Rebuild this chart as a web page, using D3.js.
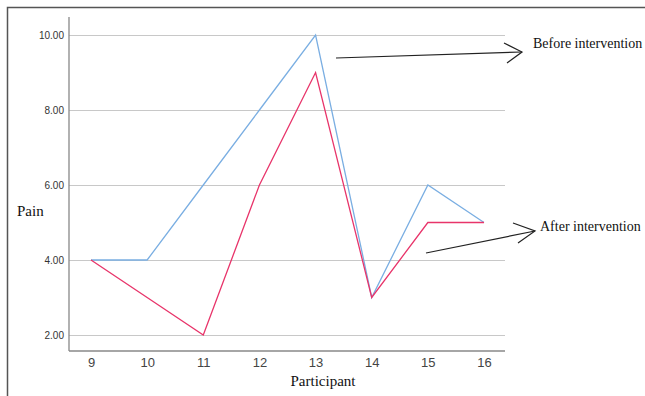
<!DOCTYPE html>
<html><head><meta charset="utf-8">
<script src="https://cdn.jsdelivr.net/npm/d3@7"></script>
<style>body{margin:0;background:#fff}svg{display:block}</style>
</head><body>
<svg id="c" width="645" height="396"></svg>
<script>
const participants = ["9","10","11","12","13","14","15","16"];
const before = [4, 4, 6, 8, 10, 3, 6, 5];
const after  = [4, 3, 2, 6, 9, 3, 5, 5];
const yTicks = [2, 4, 6, 8, 10];

(function(){
const svg = d3.select("#c");
// outer frame
svg.append("path").attr("d","M7.5,396V7.5H645").attr("fill","none").attr("stroke","#555").attr("stroke-width",1.5);

const x = d3.scalePoint().domain(participants).range([91, 484]);
const y = d3.scaleLinear().domain([2, 10]).range([335, 35]);
const pl = 69, pr = 505, pt = 17, pb = 351;

// gridlines
svg.append("g").selectAll("line").data(yTicks).join("line")
  .attr("x1", pl).attr("x2", pr)
  .attr("y1", d => y(d) + 0.5).attr("y2", d => y(d) + 0.5)
  .attr("stroke", "#c8c8c8").attr("stroke-width", 1);

// y axis
const ya = svg.append("g").attr("transform", `translate(${pl},0)`)
  .call(d3.axisLeft(y).tickValues(yTicks).tickFormat(d3.format(".2f")).tickSize(0).tickPadding(5));
ya.select(".domain").remove();
ya.selectAll("text").attr("font-family","Liberation Sans, Arial, sans-serif").attr("font-size",10).attr("fill","#333");
svg.append("line").attr("x1",pl).attr("x2",pl).attr("y1",pt).attr("y2",pb).attr("stroke","#888").attr("stroke-width",1.3);

// x axis
const xa = svg.append("g").attr("transform", `translate(0,${pb})`)
  .call(d3.axisBottom(x).tickSize(0).tickPadding(7));
xa.select(".domain").remove();
xa.selectAll("text").attr("font-family","Liberation Sans, Arial, sans-serif").attr("font-size",13).attr("fill","#444");
svg.append("line").attr("x1",pl).attr("x2",pr).attr("y1",pb).attr("y2",pb).attr("stroke","#888").attr("stroke-width",1.3);

// lines
const line = d3.line().x((d,i) => x(participants[i])).y(d => y(d));
svg.append("path").datum(before).attr("d", line).attr("fill","none").attr("stroke","#7aaee2").attr("stroke-width",1.3);
svg.append("path").datum(after).attr("d", line).attr("fill","none").attr("stroke","#e8346a").attr("stroke-width",1.3);

// axis titles
svg.append("text").attr("x",323).attr("y",386).attr("text-anchor","middle")
  .attr("font-family","Liberation Serif, Times New Roman, serif").attr("font-size",15).attr("fill","#111").text("Participant");
svg.append("text").attr("x",17).attr("y",216)
  .attr("font-family","Liberation Serif, Times New Roman, serif").attr("font-size",15).attr("fill","#111").text("Pain");

// annotations
function arrow(x1,y1,x2,y2,a1,a2){
  const g = svg.append("g").attr("stroke","#222").attr("stroke-width",1.2).attr("fill","none");
  g.append("line").attr("x1",x1).attr("y1",y1).attr("x2",x2).attr("y2",y2);
  g.append("polyline").attr("points",`${a1[0]},${a1[1]} ${x2},${y2} ${a2[0]},${a2[1]}`);
}
arrow(336,58,522,52,[504,43],[507,63]);
arrow(426,253,535,231,[513,223],[518,243]);
svg.append("text").attr("x",533).attr("y",48)
  .attr("font-family","Liberation Serif, Times New Roman, serif").attr("font-size",14).attr("fill","#111").text("Before intervention");
svg.append("text").attr("x",540).attr("y",231)
  .attr("font-family","Liberation Serif, Times New Roman, serif").attr("font-size",14).attr("fill","#111").text("After intervention");
})();
</script>
</body></html>
